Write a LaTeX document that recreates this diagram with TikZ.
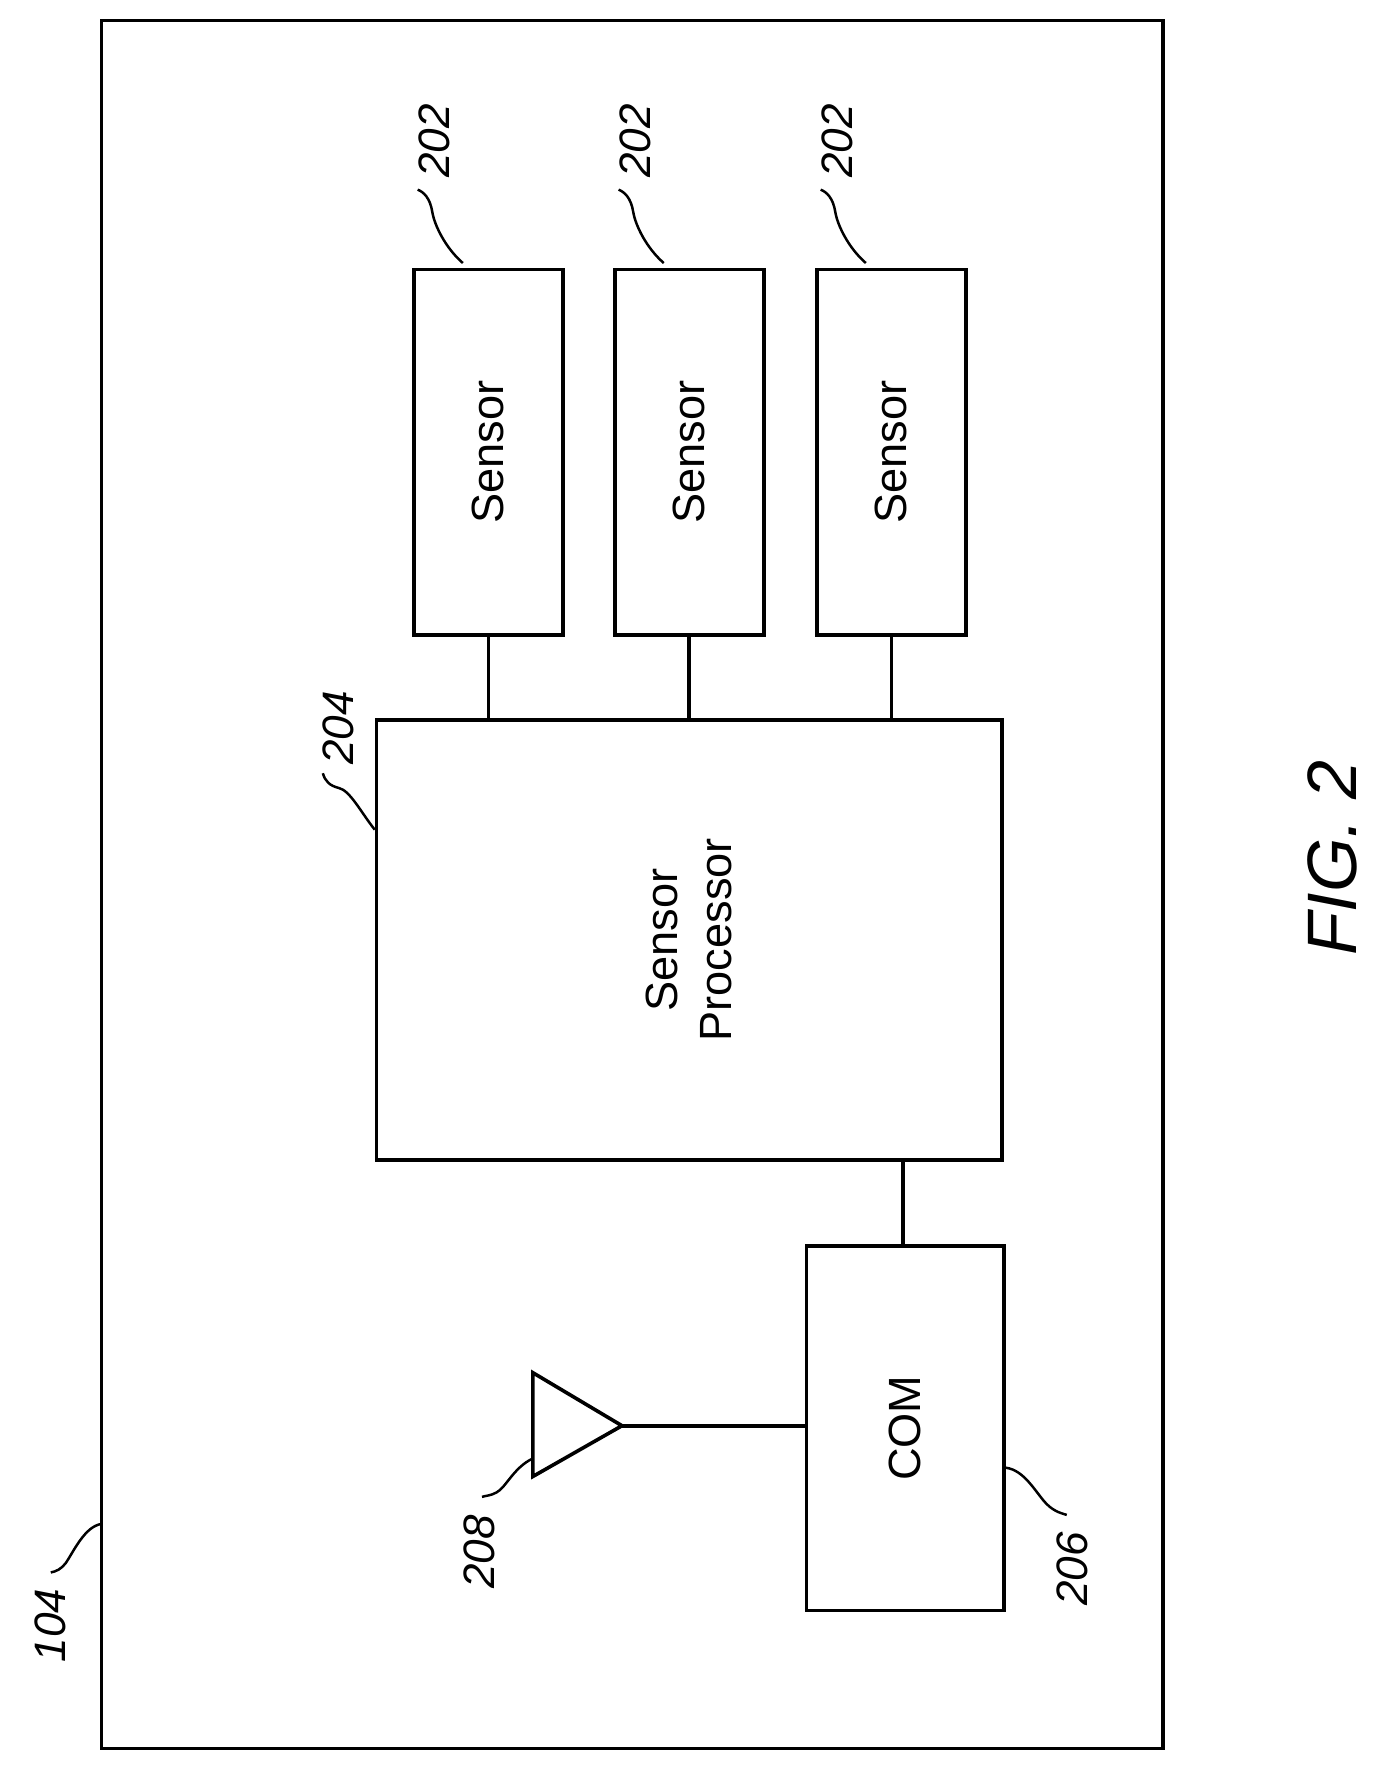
\documentclass[tikz,border=0pt]{standalone}
\usepackage{fontspec}
\setmainfont{Liberation Sans}
\begin{document}
\begin{tikzpicture}[x=0.5pt,y=-0.5pt,line width=1.6pt,
  box/.style={draw,line width=1.6pt},
  txt/.style={rotate=90,font=\fontsize{20}{24}\selectfont,align=center},
  lbl/.style={rotate=90,font=\fontsize{19.5}{22}\selectfont\itshape},
  lead/.style={line width=1.1pt}]
\useasboundingbox (0,0) rectangle (1220,1568);
\draw[box] (90,18) rectangle (1030,1549);
\foreach \i/\x in {1/365,2/543,3/722}{
  \node[box,minimum width=66pt,minimum height=162pt,anchor=north west] (s\i) at (\x,237) {};
  \node[txt] at (s\i.center) {Sensor};
  \node[lbl] (l\i) at (\x+20,125) {202};
  \draw[lead] (\x+45,233) .. controls (\x+30,220) and (\x+20,200) .. (\x+18,188) .. controls (\x+16,175) and (\x+10,170) .. (\x+5,168);
}
\node[box,minimum width=277pt,minimum height=195pt,anchor=north west] (p) at (332,636) {};
\node[txt] at (p.center) {Sensor\\Processor};
\foreach \i in {1,2,3}{\draw (s\i.south) -- (s\i.south |- p.north);}
\node[box,minimum width=87.5pt,minimum height=161.5pt,anchor=north west] (c) at (713,1102) {};
\node[txt] at (c.center) {COM};
\draw (800,1026) -- (800,1102);
\coordinate (a1) at (472,1216); \coordinate (a2) at (472,1308); \coordinate (tip) at (551,1263);
\draw[line join=miter] (a1) -- (tip) -- (a2) -- cycle;
\draw (tip) -- (c.west |- tip);
\node[lbl] at (300,645) {204};
\draw[lead] (332,735) .. controls (320,720) and (310,700) .. (300,698) .. controls (292,696) and (288,692) .. (286,685);
\node[lbl] at (950,1390) {206};
\draw[lead] (888,1300) .. controls (905,1300) and (915,1318) .. (925,1330) .. controls (932,1338) and (938,1340) .. (945,1342);
\node[lbl] at (425,1375) {208};
\draw[lead] (472,1292) .. controls (455,1300) and (448,1318) .. (440,1322) .. controls (435,1325) and (430,1325) .. (427,1326);
\node[lbl] at (45,1440) {104};
\draw[lead] (90,1350) .. controls (75,1352) and (65,1375) .. (58,1385) .. controls (54,1390) and (50,1392) .. (45,1393);
\node[rotate=90,font=\fontsize{31}{34}\selectfont\itshape] at (1180,760) {FIG. 2};
\end{tikzpicture}
\end{document}
